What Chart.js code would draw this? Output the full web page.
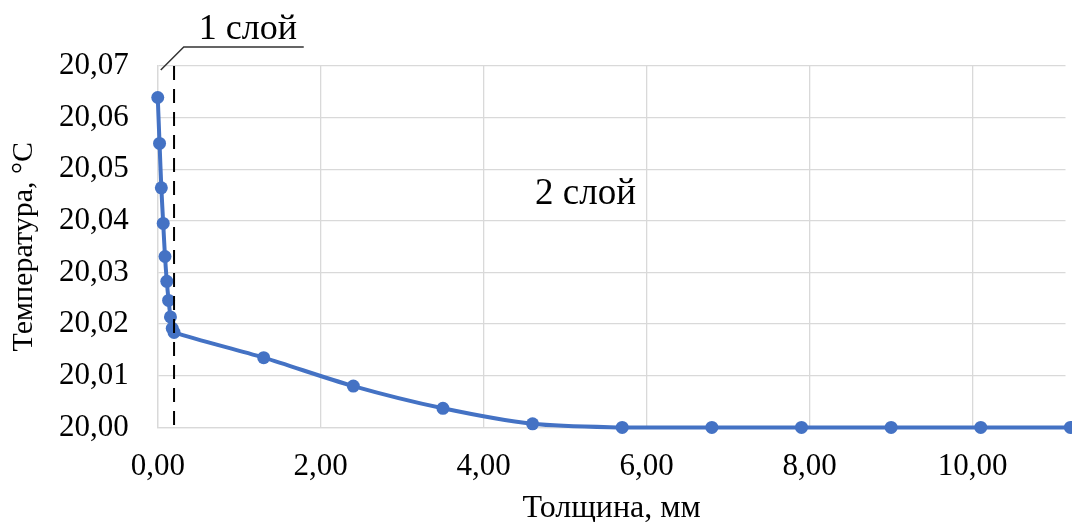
<!DOCTYPE html>
<html lang="ru">
<head>
<meta charset="utf-8">
<title>Температура по толщине</title>
<script src="https://cdn.jsdelivr.net/npm/chart.js@4/dist/chart.umd.min.js"></script>
<style>
  html, body { margin: 0; padding: 0; background: #fff; overflow: hidden; }
  #wrap { width: 1072px; height: 522px; position: relative; }
</style>
</head>
<body>
<div id="wrap"><canvas id="chart"></canvas></div>
<script>
// Толщина, мм (первый слой 0…0,2 мм, далее второй слой)
const thicknessMm = [0, 0.022, 0.044, 0.067, 0.089, 0.111, 0.133, 0.156, 0.178, 0.2,
                     1.3, 2.4, 3.5, 4.6, 5.7, 6.8, 7.9, 9.0, 10.1, 11.2];
// Температура, °С
const temperatureC = [20.0639, 20.0550, 20.0464, 20.0395, 20.0331, 20.0283, 20.0246, 20.0214, 20.0192, 20.0184,
                      20.0135, 20.0080, 20.0037, 20.0007, 20.0000, 20.0000, 20.0000, 20.0000, 20.0000, 20.0000];
// Граница между слоями, мм
const layerBoundary = 0.2;
// Деления осей
const xTicks = [0, 2, 4, 6, 8, 10];
const yTicks = [20.00, 20.01, 20.02, 20.03, 20.04, 20.05, 20.06, 20.07];
const layerLabels = ['1 слой', '2 слой'];

const FONT = '"Liberation Serif", "Times New Roman", serif';
const commaFixed = v => Number(v).toFixed(2).replace('.', ',');

// Пунктир границы слоёв и подписи слоёв
const layerMarks = {
  id: 'layerMarks',
  afterDatasetsDraw(chart) {
    const { ctx, chartArea: a, scales: { x } } = chart;
    const bx = x.getPixelForValue(layerBoundary);
    ctx.save();
    ctx.strokeStyle = '#000';
    ctx.lineWidth = 2;
    ctx.setLineDash([14, 9]);
    ctx.beginPath();
    ctx.moveTo(bx, a.top);
    ctx.lineTo(bx, a.bottom);
    ctx.stroke();
    ctx.setLineDash([]);

    // выноска «1 слой»
    ctx.lineWidth = 1.5;
    ctx.strokeStyle = '#333';
    ctx.beginPath();
    ctx.moveTo(a.left + 3, a.top + 4);
    ctx.lineTo(a.left + 26, a.top - 19);
    ctx.lineTo(a.left + 146, a.top - 19);
    ctx.stroke();

    ctx.fillStyle = '#000';
    ctx.textBaseline = 'alphabetic';
    ctx.textAlign = 'left';
    ctx.font = '36px ' + FONT;
    ctx.fillText(layerLabels[0], a.left + 41, a.top - 27);
    ctx.font = '37px ' + FONT;
    ctx.fillText(layerLabels[1], 535, 204);
    ctx.restore();
  }
};

new Chart(document.getElementById('chart'), {
  type: 'scatter',
  data: {
    datasets: [{
      data: thicknessMm.map((t, i) => ({ x: t, y: temperatureC[i] })),
      showLine: true,
      tension: 0.3,
      borderColor: '#4472C4',
      backgroundColor: '#4472C4',
      borderWidth: 4,
      pointRadius: 6.5,
      pointHoverRadius: 6.5,
      pointBorderWidth: 0,
      clip: false
    }]
  },
  options: {
    responsive: true,
    maintainAspectRatio: false,
    animation: false,
    layout: { padding: { left: 6, top: 66, right: 0, bottom: -6 } },
    plugins: { legend: { display: false }, tooltip: { enabled: false } },
    scales: {
      x: {
        type: 'linear',
        min: 0,
        max: 11.14,
        afterBuildTicks: s => { s.ticks = xTicks.map(v => ({ value: v })); },
        grid: { color: '#d9d9d9', lineWidth: 1.3, drawTicks: false },
        border: { color: '#d9d9d9', width: 1.3 },
        ticks: {
          color: '#000', padding: 21, maxRotation: 0,
          font: { family: FONT, size: 31 },
          callback: v => commaFixed(v)
        },
        title: {
          display: true, text: 'Толщина, мм', color: '#000',
          font: { family: FONT, size: 32 }, padding: { top: -17, bottom: 0 }
        }
      },
      y: {
        type: 'linear',
        min: 20.00,
        max: 20.07,
        afterBuildTicks: s => { s.ticks = yTicks.map(v => ({ value: v })); },
        grid: { color: '#d9d9d9', lineWidth: 1.3, drawTicks: false },
        border: { color: '#d9d9d9', width: 1.3 },
        ticks: {
          color: '#000', padding: 29,
          font: { family: FONT, size: 31 },
          callback: v => commaFixed(v)
        },
        title: {
          display: true, text: 'Температура, °С', color: '#000',
          font: { family: FONT, size: 30 }, padding: { top: 0, bottom: -12 }
        }
      }
    }
  },
  plugins: [layerMarks]
});
</script>
</body>
</html>
